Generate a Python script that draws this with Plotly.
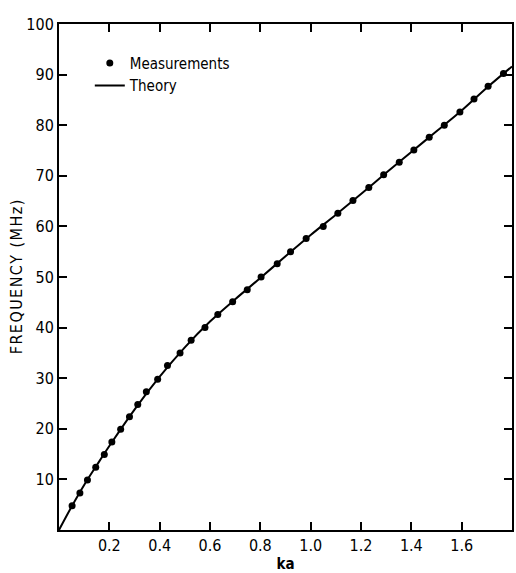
import plotly.graph_objects as go

# Measurements (ka, frequency in MHz)
meas_ka = [0.052, 0.083, 0.113, 0.146, 0.180, 0.210, 0.245, 0.280, 0.313, 0.347,
           0.392, 0.431, 0.481, 0.525, 0.580, 0.631, 0.690, 0.748, 0.803, 0.867,
           0.920, 0.982, 1.050, 1.108, 1.168, 1.231, 1.290, 1.352, 1.410, 1.471,
           1.531, 1.593, 1.649, 1.705, 1.766]
meas_f = [4.8, 7.3, 9.9, 12.4, 14.9, 17.4, 19.9, 22.4, 24.8, 27.3,
          29.8, 32.5, 35.0, 37.5, 40.0, 42.6, 45.1, 47.5, 50.0, 52.6,
          55.0, 57.6, 60.0, 62.6, 65.1, 67.7, 70.2, 72.7, 75.1, 77.6,
          80.0, 82.6, 85.2, 87.7, 90.2]

# Theory curve
theory_ka = [0.0, 0.05, 0.1, 0.15, 0.2, 0.3, 0.4, 0.5, 0.6, 0.7, 0.8, 0.9,
             1.0, 1.1, 1.2, 1.3, 1.4, 1.5, 1.6, 1.7, 1.8]
theory_f = [0.0, 4.6, 8.9, 12.8, 16.6, 23.8, 30.3, 36.1, 41.2, 45.6, 49.8, 54.1,
            58.3, 62.3, 66.4, 70.6, 74.7, 78.8, 82.9, 87.4, 91.6]

x_ticks = [0.2, 0.4, 0.6, 0.8, 1.0, 1.2, 1.4, 1.6]
x_ticklabels = ["0.2", "0.4", "0.6", "0.8", "1.0", "1.2", "1.4", "1.6"]
y_ticks = [10, 20, 30, 40, 50, 60, 70, 80, 90, 100]
y_title = "\u200a".join("FREQUENCY (MHz)")

FONT = "DejaVu Sans Condensed, Liberation Sans Narrow, Arial, sans-serif"

fig = go.Figure()
fig.add_trace(go.Scatter(
    x=meas_ka, y=meas_f, mode="markers", name="Measurements",
    marker=dict(color="black", size=7, symbol="circle"),
))
fig.add_trace(go.Scatter(
    x=theory_ka, y=theory_f, mode="lines", name="Theory",
    line=dict(color="black", width=2, shape="spline"),
))

axis_common = dict(
    showline=True, linecolor="black", linewidth=2, mirror="ticks",
    ticks="inside", ticklen=8, tickwidth=1.5, tickcolor="black",
    showgrid=False, zeroline=False,
    tickfont=dict(family=FONT, size=16, color="black"),
)

fig.update_xaxes(
    range=[0, 1.8], tickvals=x_ticks, ticktext=x_ticklabels,
    title=dict(text="ka", font=dict(family=FONT, size=15, color="black", weight="bold"), standoff=4),
    **axis_common,
)
fig.update_yaxes(
    range=[0, 100], tickvals=y_ticks,
    title=dict(text=y_title,
               font=dict(family=FONT, size=16, color="black"), standoff=0),
    **axis_common,
)

fig.update_layout(
    width=516, height=573,
    margin=dict(l=59, r=2, t=24, b=43),
    paper_bgcolor="white", plot_bgcolor="white",
    showlegend=True,
    legend=dict(
        x=0.068, y=0.955, xanchor="left", yanchor="top",
        bgcolor="rgba(0,0,0,0)", borderwidth=0,
        font=dict(family=FONT, size=15, color="black"),
        itemwidth=30, tracegroupgap=0,
    ),
)

fig.write_html("out.html")
